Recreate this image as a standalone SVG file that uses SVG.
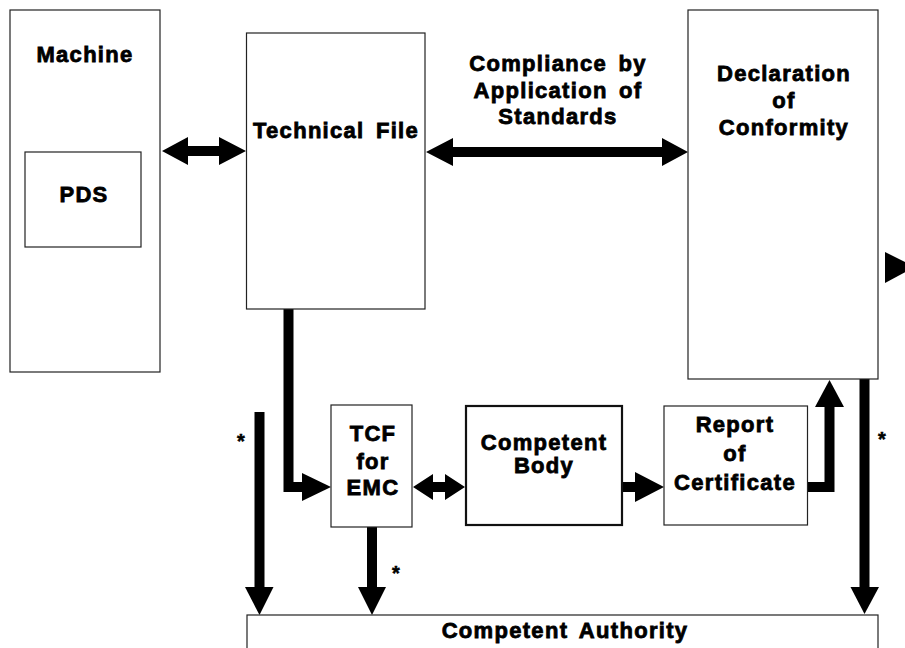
<svg xmlns="http://www.w3.org/2000/svg" width="905" height="648" viewBox="0 0 905 648">
<style>
.box{fill:#fff;stroke:#222;stroke-width:1.2}
.box2{fill:#fff;stroke:#111;stroke-width:2.2}
.t{font-family:"Liberation Sans",Arial,sans-serif;font-weight:bold;font-size:22px;letter-spacing:1.3px;word-spacing:4px;fill:#000;stroke:#000;stroke-width:0.8;text-anchor:middle}
.s{font-family:"Liberation Sans",Arial,sans-serif;font-weight:bold;font-size:20px;fill:#000;stroke:#000;stroke-width:0.5;text-anchor:middle}
.ln{fill:none;stroke:#000;stroke-width:10}
.hd{fill:#000;stroke:none}
</style>
<rect width="905" height="648" fill="#fff"/>
<g id="connectors">
<polygon class="hd" points="162,151 188,137 188,146 219,146 219,137 246,151 219,165 219,156 188,156 188,165"/>
<polygon class="hd" points="426,152 453,138 453,147 662,147 662,138 688,152 662,166 662,157 453,157 453,166"/>
<path class="ln" d="M288.5,309 V487 H303"/>
<polygon class="hd" points="302,473 331,487 302,501"/>
<path class="ln" d="M259.5,412 V588"/>
<polygon class="hd" points="245,587 273.5,587 259.5,615"/>
<path class="ln" d="M372,527 V588"/>
<polygon class="hd" points="358,587 386,587 372,615"/>
<polygon class="hd" points="413,487 433,474 433,482 445,482 445,474 465,487 445,500 445,492 433,492 433,500"/>
<path class="ln" d="M622,487 H637"/>
<polygon class="hd" points="635,472 664,487 635,502"/>
<path class="ln" d="M807,487 H829.5 V406"/>
<polygon class="hd" points="815,407 844,407 829.5,380"/>
<path class="ln" d="M864.5,379 V588"/>
<polygon class="hd" points="850.5,587 879,587 864.5,614"/>
<polygon class="hd" points="885,252 915,267 885,283"/>
<text class="s" x="241" y="448">*</text>
<text class="s" x="396" y="580">*</text>
<text class="s" x="882" y="446">*</text>
<g id="label-compliance">
<text class="t" x="558" y="71">Compliance by</text>
<text class="t" x="558" y="98">Application of</text>
<text class="t" x="558" y="124">Standards</text>
</g>
</g>
<g id="machine">
<rect class="box" x="10" y="10" width="150" height="362"/>
<text class="t" x="85" y="62">Machine</text>
</g>
<g id="pds">
<rect class="box" x="25" y="152" width="116" height="95"/>
<text class="t" x="84" y="202">PDS</text>
</g>
<g id="technical-file">
<rect class="box" x="246.5" y="33" width="178.5" height="276"/>
<text class="t" x="336" y="138">Technical File</text>
</g>
<g id="declaration">
<rect class="box" x="688" y="10" width="190" height="369"/>
<text class="t" x="784" y="81">Declaration</text>
<text class="t" x="784" y="108">of</text>
<text class="t" x="784" y="135">Conformity</text>
</g>
<g id="tcf">
<rect class="box" x="331" y="405" width="81" height="122"/>
<text class="t" x="373" y="441">TCF</text>
<text class="t" x="373" y="469">for</text>
<text class="t" x="373" y="495">EMC</text>
</g>
<g id="competent-body">
<rect class="box2" x="466" y="406" width="156" height="119"/>
<text class="t" x="544" y="450">Competent</text>
<text class="t" x="544" y="473">Body</text>
</g>
<g id="report">
<rect class="box" x="664" y="406" width="143.5" height="119"/>
<text class="t" x="735" y="432">Report</text>
<text class="t" x="735" y="461">of</text>
<text class="t" x="735" y="490">Certificate</text>
</g>
<g id="competent-authority">
<rect class="box" x="247" y="615" width="631" height="50"/>
<text class="t" x="565" y="638">Competent Authority</text>
</g>
</svg>
